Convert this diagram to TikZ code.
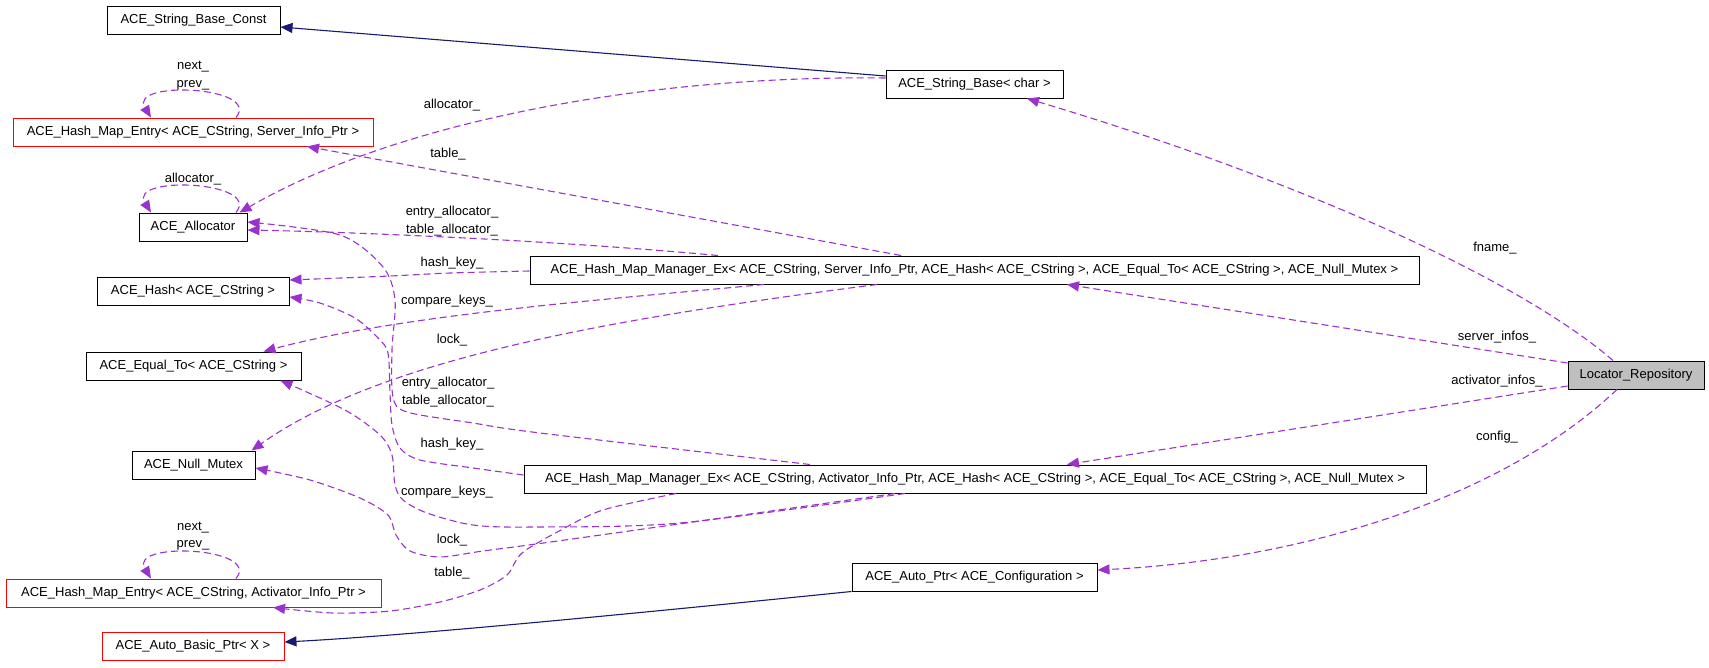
\documentclass[tikz,border=0pt]{standalone}
\usepackage{fontspec}
\setmainfont{Liberation Sans}
\usetikzlibrary{arrows.meta}
\definecolor{depc}{HTML}{9A32CD}
\definecolor{inhc}{HTML}{191970}
\definecolor{focusc}{HTML}{BFBFBF}
\begin{document}
\begin{tikzpicture}[x=1pt,y=-1pt,
  every node/.style={font=\fontsize{13}{17.5}\selectfont},
  cls/.style={draw=black, line width=1pt, fill=white, minimum height=28pt, inner sep=0pt},
  trunc/.style={cls, draw=red},
  focus/.style={cls, fill=focusc},
  lbl/.style={inner sep=0pt, align=center},
  mem/.style={draw=depc, line width=1.1pt, dash pattern=on 7pt off 4pt, -{Triangle[length=12pt,width=10pt]}},
  isa/.style={draw=inhc, line width=1.1pt, -{Triangle[length=12pt,width=10pt]}},
]
\useasboundingbox (0,0) rectangle (1709,667);

% classes
\node[cls, minimum width=173pt] (sbc) at (193.5,20) {ACE\_String\_Base\_Const};
\node[cls, minimum width=177pt] (sb) at (974.5,84) {ACE\_String\_Base< char >};
\node[trunc, minimum width=360pt] (hmes) at (193,132) {ACE\_Hash\_Map\_Entry< ACE\_CString, Server\_Info\_Ptr >};
\node[cls, minimum width=108pt] (alloc) at (193,227) {ACE\_Allocator};
\node[cls, minimum width=192pt] (hash) at (193,291) {ACE\_Hash< ACE\_CString >};
\node[cls, minimum width=889pt] (ms) at (974.5,270) {ACE\_Hash\_Map\_Manager\_Ex< ACE\_CString, Server\_Info\_Ptr, ACE\_Hash< ACE\_CString >, ACE\_Equal\_To< ACE\_CString >, ACE\_Null\_Mutex >};
\node[cls, minimum width=215pt] (eq) at (193.5,366) {ACE\_Equal\_To< ACE\_CString >};
\node[cls, minimum width=123pt] (nm) at (193.5,465) {ACE\_Null\_Mutex};
\node[cls, minimum width=902pt] (ma) at (975,479) {ACE\_Hash\_Map\_Manager\_Ex< ACE\_CString, Activator\_Info\_Ptr, ACE\_Hash< ACE\_CString >, ACE\_Equal\_To< ACE\_CString >, ACE\_Null\_Mutex >};
\node[trunc, minimum width=375pt] (hmea) at (193.5,593) {ACE\_Hash\_Map\_Entry< ACE\_CString, Activator\_Info\_Ptr >};
\node[cls, minimum width=245pt] (ap) at (974.5,577) {ACE\_Auto\_Ptr< ACE\_Configuration >};
\node[trunc, minimum width=182pt] (abp) at (193,646.5) {ACE\_Auto\_Basic\_Ptr< X >};
\node[focus, minimum width=136pt] (loc) at (1636,375) {Locator\_Repository};

% inheritance
\draw[isa] ([yshift=8pt]sb.west) -- ([yshift=-7pt]sbc.east);
\draw[isa] (ap.south west) .. controls (600,617) and (400,636) .. ([yshift=4.5pt]abp.east);

% Locator_Repository members
\draw[mem] ([xshift=-23pt]loc.north) .. controls (1520,280) and (1300,180) .. ([xshift=52.5pt]sb.south);
\draw[mem] ([yshift=12pt]loc.west) -- ([xshift=92.5pt]ms.south);
\draw[mem] ([yshift=-11pt]loc.west) -- ([xshift=92pt]ma.north);
\draw[mem] ([xshift=-19pt]loc.south) .. controls (1500,500) and (1300,560) .. ([yshift=7pt]ap.east);
\node[lbl] (lfname) at (1495,248) {fname\_};
\node[lbl] (lsinf) at (1497,337) {server\_infos\_};
\node[lbl] (lainf) at (1497,381) {activator\_infos\_};
\node[lbl] (lconf) at (1497,437) {config\_};

% String_Base<char> member
\draw[mem] ([yshift=6pt]sb.west) .. controls (650,75) and (400,120) .. ([xshift=-8pt]alloc.north east);
\node[lbl] (lalloc) at (452,105) {allocator\_};

% self loops
\draw[mem] ([xshift=43pt]hmes.north) .. controls (262,86) and (128,80) .. ([xshift=-42pt]hmes.north);
\node[lbl] (lnp1) at (193,75.5) {next\_\\prev\_};
\draw[mem] ([xshift=43pt]alloc.north) .. controls (262,181) and (128,175) .. ([xshift=-42pt]alloc.north);
\node[lbl] (lalloc2) at (193,179) {allocator\_};
\draw[mem] ([xshift=42.5pt]hmea.north) .. controls (262,547) and (128,541) .. ([xshift=-42.5pt]hmea.north);
\node[lbl] (lnp2) at (193,536) {next\_\\prev\_};

% Server manager members
\draw[mem] ([xshift=-73.5pt]ms.north) -- ([xshift=114pt]hmes.south);
\node[lbl] (ltab1) at (448,154) {table\_};
\draw[mem] ([xshift=-256.5pt]ms.north) .. controls (550,240) and (350,232) .. ([yshift=-3pt]alloc.east);
\node[lbl] (lea1) at (452,221) {entry\_allocator\_\\table\_allocator\_};
\draw[mem] plot[smooth, tension=0.5] coordinates {([yshift=-1pt]ms.west) (450,273) (390,276) ([yshift=11pt]hash.east)};
\node[lbl] (lhk1) at (452,263) {hash\_key\_};
\draw[mem] ([xshift=-210.5pt]ms.south) .. controls (600,300) and (400,315) .. ([xshift=-38pt]eq.north east);
\node[lbl] (lck1) at (447,301) {compare\_keys\_};
\draw[mem] ([xshift=-97.5pt]ms.south) .. controls (600,320) and (380,360) .. ([xshift=-4pt]nm.north east);
\node[lbl] (llk1) at (452,340) {lock\_};

% Activator manager members
\draw[mem] plot[smooth, tension=0.5] coordinates {([xshift=-165pt]ma.north) (540,433) (473,423) (407,412) (393,397) (392,350) (395,300) (383,267) (340,235) ([yshift=5pt]alloc.east)};
\node[lbl] (lea2) at (448,392) {entry\_allocator\_\\table\_allocator\_};
\draw[mem] plot[smooth, tension=0.5] coordinates {([yshift=4pt]ma.west) (473,468) (420,460) (400,448) (392,425) (390,393) (388,353) (378,338) (355,318) (320,303) ([yshift=-6pt]hash.east)};
\node[lbl] (lhk2) at (452,444) {hash\_key\_};
\draw[mem] plot[smooth, tension=0.5] coordinates {([xshift=-70pt]ma.south) (680,523) (533,527) (473,525) (427,513) (403,500) (395,485) (392,455) (380,435) (345,410) ([xshift=-21pt]eq.south east)};
\node[lbl] (lck2) at (447,492) {compare\_keys\_};
\draw[mem] plot[smooth, tension=0.5] coordinates {([xshift=-80pt]ma.south) (565,540) (483,551) (440,557) (410,551) (396,535) (388,515) (360,498) (310,480) ([yshift=-3pt]nm.east)};
\node[lbl] (llk2) at (452,540) {lock\_};
\draw[mem] plot[smooth, tension=0.5] coordinates {([xshift=-299pt]ma.south) (603,510) (561,530) (522,553) (507,575) (480,590) (440,602) (390,611) (333,613) ([xshift=79.5pt]hmea.south)};
\node[lbl] (ltab2) at (452,573) {table\_};
\end{tikzpicture}
\end{document}
